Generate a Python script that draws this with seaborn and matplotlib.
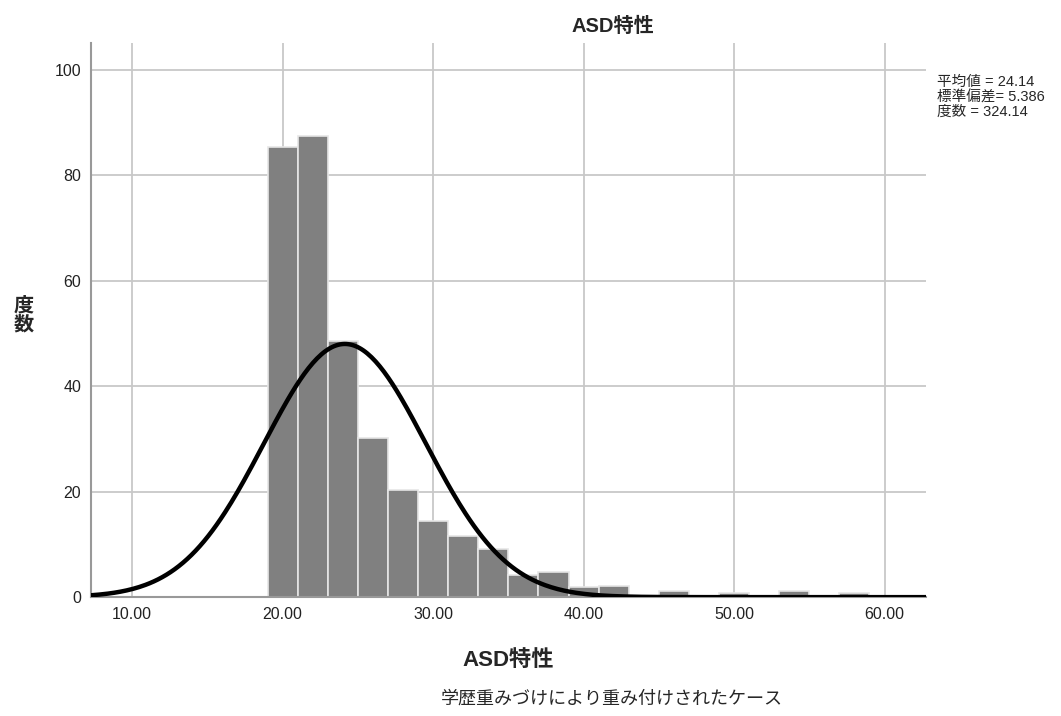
import numpy as np
import pandas as pd
import matplotlib
matplotlib.use("Agg")
import matplotlib.pyplot as plt
import seaborn as sns

# Weighted frequencies per 2-point bin of the ASD trait score
bin_left = [19, 21, 23, 25, 27, 29, 31, 33, 35, 37, 39, 41, 43, 45, 47, 49, 51, 53, 55, 57]
freq = [85.3, 87.5, 48.6, 30.1, 20.4, 14.4, 11.6, 9.2, 4.2, 4.7, 2.0, 2.2,
        0.0, 1.1, 0.0, 0.8, 0.0, 1.1, 0.0, 0.8]
bin_width = 2

mean_val = 24.14
sd_val = 5.386
n_val = 324.14

x_ticks = [10, 20, 30, 40, 50, 60]
y_ticks = [0, 20, 40, 60, 80, 100]

sns.set_theme(style="white")
plt.rcParams["font.family"] = ["Liberation Sans", "Noto Sans CJK JP", "DejaVu Sans"]

fig = plt.figure(figsize=(10.61, 7.16), dpi=100)
ax = fig.add_axes([0.0858, 0.166, 0.787, 0.774])

df = pd.DataFrame({"score": np.array(bin_left) + bin_width / 2, "w": freq})
edges = list(bin_left) + [bin_left[-1] + bin_width]
sns.histplot(data=df, x="score", weights="w", bins=edges, ax=ax,
             color="#808080", alpha=1.0, edgecolor="#e6e6e6", linewidth=1.2,
             zorder=2)

# Fitted normal curve scaled to counts per bin
xs = np.linspace(7.27, 62.76, 400)
ys = n_val * bin_width * np.exp(-0.5 * ((xs - mean_val) / sd_val) ** 2) / (sd_val * np.sqrt(2 * np.pi))
sns.lineplot(x=xs, y=ys, ax=ax, color="black", linewidth=3.2, zorder=3)

ax.set_xlim(7.27, 62.76)
ax.set_ylim(0, 105.1)
ax.set_xticks(x_ticks)
ax.set_xticklabels([f"{v:.2f}" for v in x_ticks])
ax.set_yticks(y_ticks)
ax.grid(True, color="#c8c8c8", linewidth=1.3, zorder=0)
ax.set_axisbelow(True)
ax.tick_params(length=0, labelsize=11.5, colors="#222222", pad=7)
for s in ["top", "right"]:
    ax.spines[s].set_visible(False)
for s in ["left", "bottom"]:
    ax.spines[s].set_color("#999999")
    ax.spines[s].set_linewidth(1.5)

ax.set_xlabel("ASD特性", fontsize=16, fontweight="bold", labelpad=20)
ax.set_ylabel("")
fig.text(0.022, 0.56, "度\n数", fontsize=14.5, fontweight="bold",
         ha="center", va="center", linespacing=1.0)

fig.text(0.578, 0.963, "ASD特性", fontsize=14.5, fontweight="bold", ha="center", va="center")

fig.text(0.883, 0.895, "平均値 = 24.14\n標準偏差= 5.386\n度数 = 324.14",
         fontsize=10.5, ha="left", va="top", linespacing=1.08)

fig.text(0.577, 0.012, "学歴重みづけにより重み付けされたケース", fontsize=13,
         ha="center", va="bottom")

fig.savefig("out.png", dpi=100, facecolor="white")
